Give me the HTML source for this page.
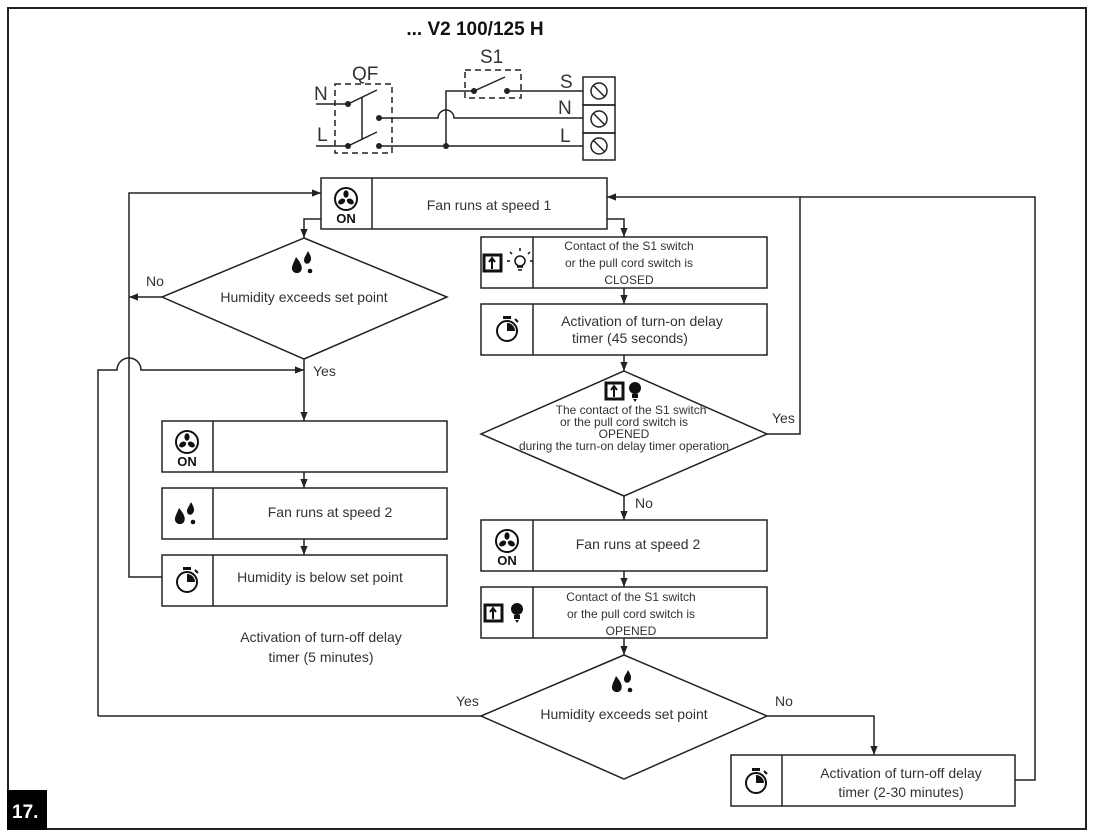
<!DOCTYPE html>
<html><head><meta charset="utf-8"><style>
html,body{margin:0;padding:0;background:#fff}
svg{display:block}
text{font-family:"Liberation Sans",sans-serif;fill:#333}
</style></head><body>
<svg width="1095" height="840" viewBox="0 0 1095 840" xmlns="http://www.w3.org/2000/svg">
<defs>
<marker id="ar" viewBox="0 0 10 10" refX="10" refY="5" markerWidth="11" markerHeight="9" orient="auto-start-reverse" markerUnits="userSpaceOnUse"><path d="M0,1 L10,5 L0,9 z" fill="#222"/></marker>
<g id="fan">
<circle cx="0" cy="-7" r="11" fill="none" stroke="#111" stroke-width="2"/>
<ellipse cx="0" cy="-12" rx="2.6" ry="3.8" fill="#111"/>
<ellipse cx="0" cy="-12" rx="2.6" ry="3.8" fill="#111" transform="rotate(120 0 -7)"/>
<ellipse cx="0" cy="-12" rx="2.6" ry="3.8" fill="#111" transform="rotate(240 0 -7)"/>
<text x="0" y="17" text-anchor="middle" font-size="13" font-weight="bold" style="fill:#111">ON</text>
</g>
<g id="drops">
<path d="M-8,-8 C-3,-2 -1,2 -3,6 C-6,10 -13,8 -12,2 C-11,-2 -9,-5 -8,-8z" fill="#111"/>
<path d="M4,-14 C7,-9 8,-6 6,-3 C4,0 0,-1 0,-5 C0,-8 3,-11 4,-14z" fill="#111"/>
<circle cx="6" cy="6" r="2.3" fill="#111"/>
</g>
<g id="timer">
<circle cx="0" cy="2" r="10" fill="none" stroke="#111" stroke-width="2"/>
<rect x="-4" y="-13" width="8" height="3" fill="#111"/>
<path d="M0,2 L0,-6 A8,8 0 0,1 8,2z" fill="#111"/>
<path d="M8,-10 L11,-7" stroke="#111" stroke-width="2"/>
</g>
<g id="sw">
<rect x="-9" y="-8" width="17" height="16" fill="none" stroke="#111" stroke-width="3"/>
<path d="M-1,6 L-1,-3 M-4,-1 L-1,-5 L2,-1" stroke="#111" stroke-width="2" fill="none"/>
</g>
<g id="bulb">
<circle cx="0" cy="-3" r="6" fill="#111"/>
<rect x="-3" y="3" width="6" height="4" fill="#111"/>
<path d="M-2,8 L2,8 L0,11z" fill="#111"/>
</g>
</defs>

<rect x="8" y="8" width="1078" height="821" fill="none" stroke="#222" stroke-width="2"/>
<rect x="7" y="790" width="40" height="40" fill="#000"/>
<text x="12" y="818" font-size="19" font-weight="bold" style="fill:#fff">17.</text>

<!-- schematic -->
<text x="475" y="35" text-anchor="middle" font-size="19" font-weight="bold" style="fill:#111">... V2 100/125 H</text>
<g stroke="#222" stroke-width="1.5" fill="none">
<rect x="335" y="84" width="57" height="69" stroke-dasharray="6,4"/>
<rect x="465" y="70" width="56" height="28" stroke-dasharray="6,4"/>
<path d="M316,104 H348 L377,90"/>
<path d="M316,146 H348 L377,132"/>
<path d="M362,97 V140"/>
<path d="M379,118 H438 A8,8 0 0,1 454,118 H583"/>
<path d="M379,146 H583"/>
<path d="M446,146 V91 H474 L505,77"/>
<path d="M507,91 H583"/>
<rect x="583" y="77" width="32" height="28"/>
<rect x="583" y="105" width="32" height="28"/>
<rect x="583" y="133" width="32" height="27"/>
<circle cx="599" cy="91" r="8"/><path d="M593,85 L605,97"/>
<circle cx="599" cy="119" r="8"/><path d="M593,113 L605,125"/>
<circle cx="599" cy="146" r="8"/><path d="M593,140 L605,152"/>
</g>
<g fill="#222">
<circle cx="348" cy="104" r="3"/><circle cx="348" cy="146" r="3"/>
<circle cx="379" cy="118" r="3"/><circle cx="379" cy="146" r="3"/>
<circle cx="446" cy="146" r="3"/><circle cx="474" cy="91" r="3"/><circle cx="507" cy="91" r="3"/>
</g>
<g font-size="19">
<text x="314" y="100">N</text><text x="317" y="141">L</text>
<text x="352" y="80">QF</text><text x="480" y="63">S1</text>
<text x="560" y="88">S</text><text x="558" y="114">N</text><text x="560" y="142">L</text>
</g>

<!-- boxes -->
<g stroke="#222" stroke-width="1.5" fill="none">
<rect x="321" y="178" width="286" height="51"/><path d="M372,178 V229"/>
<rect x="162" y="421" width="285" height="51"/><path d="M213,421 V472"/>
<rect x="162" y="488" width="285" height="51"/><path d="M213,488 V539"/>
<rect x="162" y="555" width="285" height="51"/><path d="M213,555 V606"/>
<rect x="481" y="237" width="286" height="51"/><path d="M533,237 V288"/>
<rect x="481" y="304" width="286" height="51"/><path d="M533,304 V355"/>
<rect x="481" y="520" width="286" height="51"/><path d="M533,520 V571"/>
<rect x="481" y="587" width="286" height="51"/><path d="M533,587 V638"/>
<rect x="731" y="755" width="284" height="51"/><path d="M782,755 V806"/>
<path d="M304,238 L447,297 L304,359 L162,297z"/>
<path d="M624,371 L767,434 L624,496 L481,434z"/>
<path d="M624,655 L767,716 L624,779 L481,716z"/>
</g>

<!-- connectors -->
<g stroke="#222" stroke-width="1.5" fill="none">
<path d="M321,219 H304 V238" marker-end="url(#ar)"/>
<path d="M162,297 H129" marker-end="url(#ar)"/>
<path d="M162,577 H129 V193 H321" marker-end="url(#ar)"/>
<path d="M98,716 V370 H117 A12,12 0 0,1 141,370 H304" marker-end="url(#ar)"/>
<path d="M304,359 V421" marker-end="url(#ar)"/>
<path d="M304,472 V488" marker-end="url(#ar)"/>
<path d="M304,539 V555" marker-end="url(#ar)"/>
<path d="M607,219 H624 V237" marker-end="url(#ar)"/>
<path d="M624,288 V304" marker-end="url(#ar)"/>
<path d="M624,355 V371" marker-end="url(#ar)"/>
<path d="M767,434 H800 V197 H607" marker-end="url(#ar)"/>
<path d="M1015,780 H1035 V197 H800"/>
<path d="M624,496 V520" marker-end="url(#ar)"/>
<path d="M624,571 V587" marker-end="url(#ar)"/>
<path d="M624,638 V655" marker-end="url(#ar)"/>
<path d="M481,716 H98"/>
<path d="M767,716 H874 V755" marker-end="url(#ar)"/>
</g>

<!-- icons -->
<use href="#fan" x="346" y="206"/>
<use href="#fan" x="187" y="449"/>
<use href="#fan" x="507" y="548"/>
<use href="#drops" x="304" y="265"/>
<use href="#drops" x="187" y="516"/>
<use href="#drops" x="624" y="684"/>
<use href="#timer" x="187" y="580"/>
<use href="#timer" x="507" y="329"/>
<use href="#timer" x="756" y="781"/>
<use href="#sw" x="493" y="263"/>
<g stroke="#111" stroke-width="1.5" fill="none">
<circle cx="520" cy="261" r="5"/><path d="M517,267 h6 M518,270 h4 M520,251 v-3 M512,254 l-2,-2 M528,254 l2,-2 M510,261 h-3 M530,261 h3"/>
</g>
<use href="#sw" x="615" y="391"/>
<use href="#bulb" x="635" y="391"/>
<use href="#sw" x="494" y="613"/>
<use href="#bulb" x="517" y="612"/>

<!-- labels -->
<g font-size="14" text-anchor="middle">
<text x="489" y="210">Fan runs at speed 1</text>
<text x="304" y="302">Humidity exceeds set point</text>
<text x="330" y="517">Fan runs at speed 2</text>
<text x="320" y="582">Humidity is below set point</text>
<text x="321" y="642">Activation of turn-off delay</text>
<text x="321" y="662">timer (5 minutes)</text>
<text x="642" y="326">Activation of turn-on delay</text>
<text x="630" y="343">timer (45 seconds)</text>
<text x="638" y="549">Fan runs at speed 2</text>
<text x="624" y="719">Humidity exceeds set point</text>
<text x="901" y="778">Activation of turn-off delay</text>
<text x="901" y="797">timer (2-30 minutes)</text>
</g>
<g font-size="12" text-anchor="middle">
<text x="629" y="250">Contact of the S1 switch</text>
<text x="629" y="267">or the pull cord switch is</text>
<text x="629" y="284">CLOSED</text>
<text x="631" y="414">The contact of the S1 switch</text>
<text x="624" y="426">or the pull cord switch is</text>
<text x="624" y="438">OPENED</text>
<text x="624" y="450">during the turn-on delay timer operation</text>
<text x="631" y="601">Contact of the S1 switch</text>
<text x="631" y="618">or the pull cord switch is</text>
<text x="631" y="635">OPENED</text>
</g>
<g font-size="14">
<text x="146" y="286">No</text>
<text x="313" y="376">Yes</text>
<text x="772" y="423">Yes</text>
<text x="635" y="508">No</text>
<text x="456" y="706">Yes</text>
<text x="775" y="706">No</text>
</g>
</svg>
</body></html>
